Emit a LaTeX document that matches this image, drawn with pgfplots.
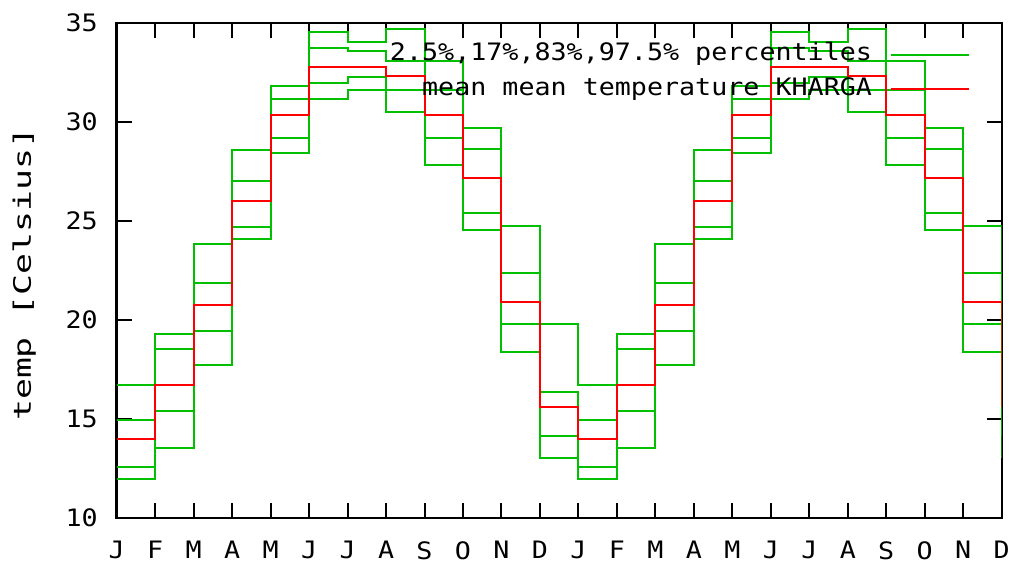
\documentclass[border=0pt]{standalone}
\usepackage{fontspec}
\usepackage{pgfplots}
\usepackage{pgfplotstable}
\pgfplotsset{compat=1.18}
\setmainfont{DejaVu Sans Mono}[FakeStretch=1.112]
\newfontfamily\ylabfont{DejaVu Sans Mono}[FakeStretch=1.45]
\definecolor{gpred}{RGB}{255,0,0}
\definecolor{gpgreen}{RGB}{0,192,0}

\pgfplotstableread{
m lo a mean b hi
0 11.95 12.55 14.0 14.95 16.7
1 13.5 15.4 16.7 18.5 19.3
2 17.7 19.45 20.75 21.85 23.8
3 24.1 24.7 26.0 27.0 28.55
4 28.4 29.2 30.35 31.15 31.8
5 31.15 31.95 32.75 33.7 34.55
6 31.6 32.25 32.75 33.55 34.05
7 30.5 31.6 32.3 33.05 34.7
8 27.8 29.2 30.35 31.6 33.05
9 24.55 25.4 27.15 28.6 29.7
10 18.35 19.77 20.9 22.35 24.75
11 13.0 14.15 15.6 16.35 19.77
12 11.95 12.55 14.0 14.95 16.7
13 13.5 15.4 16.7 18.5 19.3
14 17.7 19.45 20.75 21.85 23.8
15 24.1 24.7 26.0 27.0 28.55
16 28.4 29.2 30.35 31.15 31.8
17 31.15 31.95 32.75 33.7 34.55
18 31.6 32.25 32.75 33.55 34.05
19 30.5 31.6 32.3 33.05 34.7
20 27.8 29.2 30.35 31.6 33.05
21 24.55 25.4 27.15 28.6 29.7
22 18.35 19.77 20.9 22.35 24.75
23 13.0 14.15 15.6 16.35 19.77
}\data

\begin{document}
\begin{tikzpicture}
\useasboundingbox (-58.35bp,-24.15bp) rectangle (446.65bp,258.85bp);
\begin{axis}[
  at={(0,0)}, anchor=south west,
  scale only axis, width=442.5bp, height=247.5bp,
  xmin=0, xmax=23, ymin=10, ymax=35,
  xtick={0,...,23},
  xticklabels={J,F,M,A,M,J,J,A,S,O,N,D,J,F,M,A,M,J,J,A,S,O,N,D},
  ytick={10,15,...,35},
  tick align=inside, major tick length=7.5bp,
  tick style={line width=1bp, black},
  axis line style={line width=1.2bp},
  /pgf/number format/assume math mode=true,
  tick label style={font=\fontsize{12bp}{14bp}\selectfont},
  xticklabel style={inner sep=0pt, anchor=north, yshift=-11.7bp},
  yticklabel style={inner sep=0pt, anchor=east, xshift=-9.3bp},
  ylabel={temp [Celsius]},
  every axis y label/.style={at={([xshift=-46.3bp,yshift=-2bp]axis description cs:0,0.5)}, rotate=90, anchor=center, font=\ylabfont\fontsize{12bp}{14bp}\selectfont},
  legend plot pos=right,
  legend cell align=right,
  legend image code/.code={\draw[#1] (0bp,0bp) -- (39bp,0bp);},
  legend style={at={(rel axis cs:0.9642,0.958)}, anchor=north east, draw=none, fill=none,
    inner sep=0pt, outer sep=0pt, column sep=9bp, row sep=6bp,
    font=\fontsize{12bp}{14bp}\selectfont,
    nodes={inner sep=0pt, text height=8.75bp, text depth=2.5bp}},
]
\addplot[gpgreen, line width=1bp, const plot] table[x=m, y=hi] {\data};
\addlegendentry{2.5\%,17\%,83\%,97.5\% percentiles}
\addplot[gpgreen, line width=1bp, const plot, forget plot] table[x=m, y=b] {\data};
\addplot[gpgreen, line width=1bp, const plot, forget plot] table[x=m, y=a] {\data};
\addplot[gpgreen, line width=1bp, const plot, forget plot] table[x=m, y=lo] {\data};
\addplot[gpred, line width=1bp, const plot] table[x=m, y=mean] {\data};
\addlegendentry{mean mean temperature KHARGA}
\end{axis}
\end{tikzpicture}
\end{document}
